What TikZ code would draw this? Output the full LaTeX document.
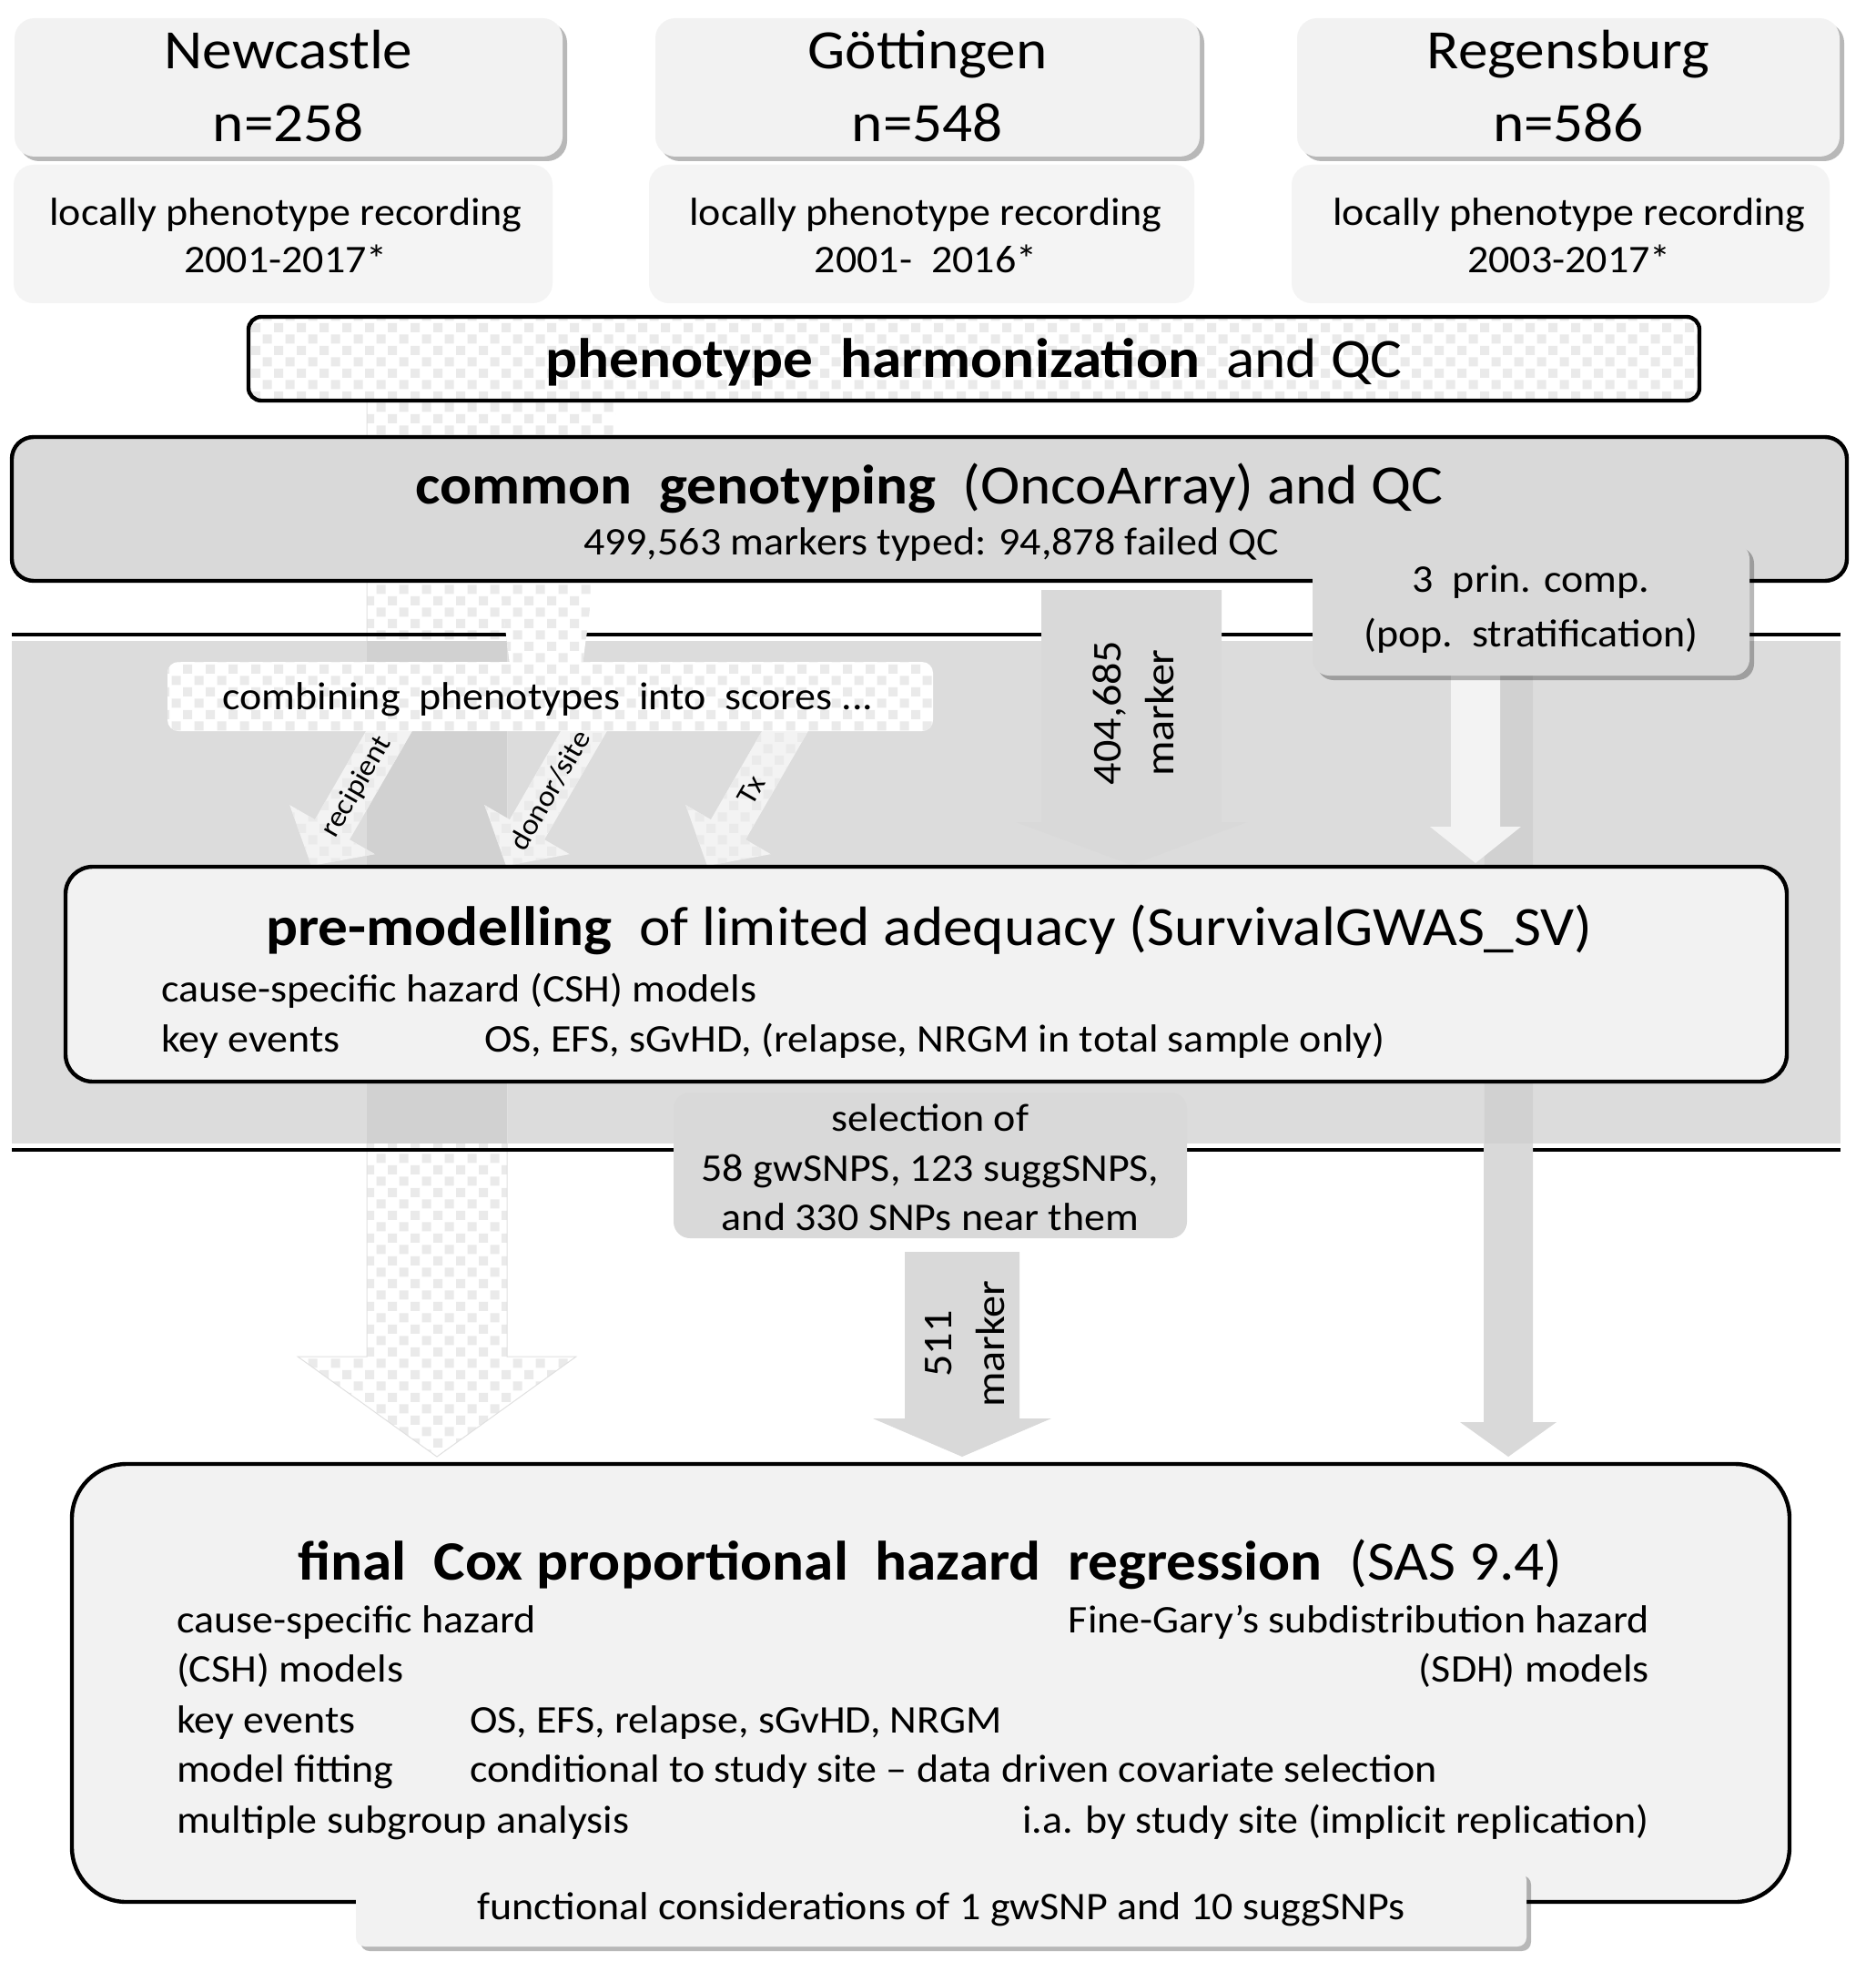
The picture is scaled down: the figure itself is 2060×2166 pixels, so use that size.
\documentclass[tikz,border=0pt]{standalone}
\usepackage{fontspec}
\setmainfont{Carlito}[FakeStretch=1.07]
\usetikzlibrary{patterns,shadows,calc}
\definecolor{boxlight}{HTML}{F2F2F2}
\definecolor{boxpale}{HTML}{F4F4F4}
\definecolor{boxgray}{HTML}{D9D9D9}
\definecolor{bandgray}{HTML}{DCDCDC}
\definecolor{stripgray}{HTML}{D1D1D1}
\definecolor{checkc}{HTML}{EAEAEA}
\definecolor{arrowwhite}{HTML}{F3F3F3}
\pgfdeclarepatterninherentlycolored{ckpat}
{\pgfqpoint{-0.1pt}{-0.1pt}}{\pgfqpoint{12.6pt}{12.6pt}}
{\pgfqpoint{12.5pt}{12.5pt}}
{%
 \pgfsetfillcolor{checkc}%
 \pgfpathrectangle{\pgfqpoint{0.6pt}{0.6pt}}{\pgfqpoint{5pt}{5pt}}%
 \pgfpathrectangle{\pgfqpoint{6.85pt}{6.85pt}}{\pgfqpoint{5pt}{5pt}}%
 \pgfusepath{fill}%
}
\newcommand\bigsz{\fontsize{30.5}{36}\selectfont}
\newcommand\smsz{\fontsize{21.5}{26}\selectfont}
\newcommand\midsz{\fontsize{22.5}{29}\selectfont}
\newcommand\lblsz{\fontsize{16}{19}\selectfont}
\newcommand\vblock[7]{%
 \path[#1] (#2-#6,#3) -- (#2+#6,#3) -- (#2+#6,#4) -- (#2+#7,#4) -- (#2,#5) -- (#2-#7,#4) -- (#2-#6,#4) -- cycle;}
\newcommand\diagarrow[2]{%
 \path[diagfill, shift={(#1,#2)}, rotate=-30] (0,0) -- (54,-46) -- (22,-46) -- (22,-200) -- (-22,-200) -- (-22,-46) -- (-54,-46) -- cycle;}
\begin{document}
\begin{tikzpicture}[x=0.5pt,y=-0.5pt,
  txt/.style={inner sep=0pt, outer sep=0pt},
  outl/.style={draw=black, line width=2.2pt},
  shad/.style={drop shadow={shadow xshift=2.5pt, shadow yshift=-2.5pt, fill=black, opacity=0.28}},
  sitebox/.style={fill=boxlight, rounded corners=11pt, shad},
  recbox/.style={fill=boxpale, rounded corners=11pt},
  ckfill/.style={preaction={fill=white}, pattern=ckpat},
  diagfill/.style={preaction={fill=arrowwhite}, pattern=ckpat},
  grayarrow/.style={fill=boxgray}
]
\useasboundingbox (0,0) rectangle (2060,2166);
\fill[white] (0,0) rectangle (2060,2166);

% site boxes
\path[sitebox] (16,20) rectangle (618,172);
\path[sitebox] (720,20) rectangle (1318,172);
\path[sitebox] (1425,20) rectangle (2021,172);
\path[recbox] (15,181) rectangle (607,333);
\path[recbox] (713,181) rectangle (1312,333);
\path[recbox] (1419,181) rectangle (2010,333);

% band
\fill[bandgray] (13,704) rectangle (2022,1256);

% big left arrow (phenotypes to final model)
\vblock{ckfill, draw=black!12, line width=0.5pt}{480}{440}{1490}{1600}{77}{153}
\fill[stripgray] (403,704) rectangle (557,1256);

% band lines
\draw[line width=2.2pt] (13,697) -- (2022,697);
\draw[line width=2.2pt] (13,1263) -- (2022,1263);

% trapezoid arrow to combining box
\path[ckfill] (524,440) -- (678,440) -- (640,730) -- (560,730) -- cycle;

% 404,685 marker arrow
\vblock{grayarrow}{1243}{648}{903}{950}{99}{127}

% long gray arrow from principal components to final model
\vblock{grayarrow}{1657}{742}{1562}{1600}{27}{53}
\fill[stripgray] (1631,742) rectangle (1684,1256);
% white arrow from principal components to pre-modelling
\vblock{fill=arrowwhite}{1621}{742}{908}{948}{27}{50}

% phenotype harmonization box
\path[ckfill, outl, rounded corners=7pt] (273,348) rectangle (1867,440);
% common genotyping box
\path[fill=boxgray, outl, rounded corners=12pt] (13,480) rectangle (2029,638);
% principal components box
\path[fill=boxgray, rounded corners=9pt, shad] (1442,596) rectangle (1922,742);

% diagonal arrows
\diagarrow{342}{951}
\diagarrow{556}{951}
\diagarrow{777}{951}
% combining box
\path[ckfill, rounded corners=6pt] (184,727) rectangle (1025,803);

% pre-modelling box
\path[fill=boxlight, outl, rounded corners=15pt] (72,952) rectangle (1963,1188);
% selection box
\path[fill=boxgray, rounded corners=9pt] (740,1200) rectangle (1304,1360);
% 511 marker arrow
\vblock{grayarrow}{1057}{1375}{1558}{1600}{63}{98}
% final box
\path[fill=boxlight, outl, rounded corners=30pt] (79,1608) rectangle (1966,2089);
% functional box
\path[fill=boxlight, rounded corners=5pt, shad] (391,2055) rectangle (1677,2138);

% ---- texts ----
\node[txt, font=\bigsz, anchor=base] (nc1) at (317,76) {Newcastle};
\node[txt, font=\bigsz, anchor=base] (nc2) at (317,156) {n=258};
\node[txt, font=\bigsz, anchor=base] (go1) at (1019,76) {Göttingen};
\node[txt, font=\bigsz, anchor=base] (go2) at (1019,156) {n=548};
\node[txt, font=\bigsz, anchor=base] (re1) at (1723,76) {Regensburg};
\node[txt, font=\bigsz, anchor=base] (re2) at (1723,156) {n=586};

\node[txt, font=\smsz, anchor=base] (ncr1) at (314,248) {locally phenotype recording};
\node[txt, font=\smsz, anchor=base] (ncr2) at (314,300) {2001-2017*};
\node[txt, font=\smsz, anchor=base] (gor1) at (1017,248) {locally phenotype recording};
\node[txt, font=\smsz, anchor=base] (gor2) at (1017,300) {2001-~~2016*};
\node[txt, font=\smsz, anchor=base] (rer1) at (1724,248) {locally phenotype recording};
\node[txt, font=\smsz, anchor=base] (rer2) at (1724,300) {2003-2017*};

\node[txt, font=\bigsz, anchor=base] (harm) at (1070,415) {\textbf{phenotype~~harmonization}~~and QC};
\node[txt, font=\bigsz, anchor=base] (geno) at (1021,553) {\textbf{common~~genotyping}~~(OncoArray) and QC};
\node[txt, font=\smsz, anchor=base] (geno2) at (1023,609) {499,563 markers typed: 94,878 failed QC};
\node[txt, font=\smsz, anchor=base] (pc1) at (1682,650) {3~~prin. comp.};
\node[txt, font=\smsz, anchor=base] (pc2) at (1682,710) {(pop.~~stratification)};
\node[txt, font=\midsz, rotate=90, align=center] (m404) at (1245,783) {404,685\\marker};
\node[txt, font=\smsz, anchor=base] (comb) at (602,779) {combining~~phenotypes~~into~~scores ...};

\node[txt, font=\lblsz, rotate=60] (lrec) at ($(342,951)+(50,-86.6)$) {recipient};
\node[txt, font=\lblsz, rotate=60] (ldon) at ($(556,951)+(48,-83)$) {donor/site};
\node[txt, font=\lblsz, rotate=60] (ltx) at ($(777,951)+(48,-83)$) {Tx};

\node[txt, font=\bigsz, anchor=base] (pre) at (1021,1038) {\textbf{pre-modelling}~~of limited adequacy (SurvivalGWAS\_SV)};
\node[txt, font=\smsz, anchor=base west] (pre1) at (177,1100) {cause-specific hazard (CSH) models};
\node[txt, font=\smsz, anchor=base west] (pre2) at (177,1155) {key events};
\node[txt, font=\smsz, anchor=base west] (pre3) at (532,1155) {OS, EFS, sGvHD, (relapse, NRGM in total sample only)};

\node[txt, font=\smsz, anchor=base] (sel1) at (1022,1242) {selection of};
\node[txt, font=\smsz, anchor=base] (sel2) at (1022,1297) {58 gwSNPS, 123 suggSNPS,};
\node[txt, font=\smsz, anchor=base] (sel3) at (1022,1351) {and 330 SNPs near them};
\node[txt, font=\midsz, rotate=90, align=center] (m511) at (1060,1476) {511\\marker};

\node[txt, font=\bigsz, anchor=base] (fin) at (1022,1735) {\textbf{final~~Cox proportional~~hazard~~regression}~~(SAS 9.4)};
\node[txt, font=\smsz, anchor=base west] (f1) at (194,1793) {cause-specific hazard};
\node[txt, font=\smsz, anchor=base west] (f2) at (194,1847) {(CSH) models};
\node[txt, font=\smsz, anchor=base west] (f3) at (194,1903) {key events};
\node[txt, font=\smsz, anchor=base west] (f4) at (194,1957) {model fitting};
\node[txt, font=\smsz, anchor=base west] (f5) at (194,2013) {multiple subgroup analysis};
\node[txt, font=\smsz, anchor=base west] (f3b) at (516,1903) {OS, EFS, relapse, sGvHD, NRGM};
\node[txt, font=\smsz, anchor=base west] (f4b) at (516,1957) {conditional to study site – data driven covariate selection};
\node[txt, font=\smsz, anchor=base east] (r1) at (1812,1793) {Fine-Gary’s subdistribution hazard};
\node[txt, font=\smsz, anchor=base east] (r2) at (1812,1847) {(SDH) models};
\node[txt, font=\smsz, anchor=base east] (r3) at (1812,2013) {i.a. by study site (implicit replication)};
\node[txt, font=\smsz, anchor=base] (func) at (1034,2108) {functional considerations of 1 gwSNP and 10 suggSNPs};
\end{tikzpicture}
\end{document}
